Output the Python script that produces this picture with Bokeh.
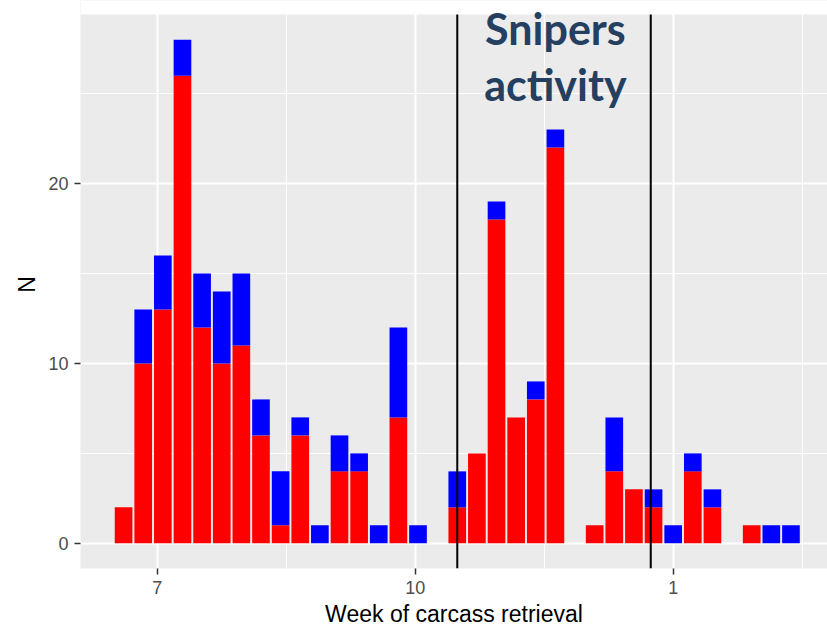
import pandas as pd
from bokeh.plotting import figure
from bokeh.models import Range1d, FixedTicker, ColumnDataSource, Label
from bokeh.embed import file_html
from bokeh.resources import INLINE

# ---- data ----
weeks = ["2017-06-19", "2017-06-26", "2017-07-03", "2017-07-10", "2017-07-17",
         "2017-07-24", "2017-07-31", "2017-08-07", "2017-08-14", "2017-08-21",
         "2017-08-28", "2017-09-04", "2017-09-11", "2017-09-18", "2017-09-25",
         "2017-10-02", "2017-10-16", "2017-10-23", "2017-10-30", "2017-11-06",
         "2017-11-13", "2017-11-20", "2017-12-04", "2017-12-11", "2017-12-18",
         "2017-12-25", "2018-01-01", "2018-01-08", "2018-01-15", "2018-01-29",
         "2018-02-05", "2018-02-12"]
red = [2, 10, 13, 26, 12, 10, 11, 6, 1, 6, 0, 4, 4, 0, 7, 0, 2, 5, 18, 7, 8, 22,
       1, 4, 3, 2, 0, 4, 2, 1, 0, 0]
blue = [0, 3, 3, 2, 3, 4, 4, 2, 3, 1, 1, 2, 1, 1, 5, 1, 2, 0, 1, 0, 1, 1,
        0, 3, 0, 1, 1, 1, 1, 0, 1, 1]

major_dates = ["2017-07-01", "2017-10-01", "2018-01-01"]
major_labels = ["7", "10", "1"]
minor_dates = ["2017-08-16", "2017-11-16", "2018-02-16"]
y_major = [0, 10, 20]
y_minor = [5, 15, 25]

sniper_start = "2017-10-16"
sniper_end = "2017-12-24"
note_lines = ["Snipers", "activity"]
note_date = "2017-11-20"


def ms(d):
    return pd.Timestamp(d).value // 10**6


DAY = 86400000.0
week_ts = pd.to_datetime(weeks)
src = ColumnDataSource(dict(week=week_ts, red=red, blue=blue))

bar_w = 0.9 * 7 * DAY
lo = ms(weeks[0]) - bar_w / 2
hi = ms(weeks[-1]) + bar_w / 2
pad = 0.05 * (hi - lo)
x_start = lo - pad
x_end = x_start + 266.4 * DAY

ymax = max(r + b for r, b in zip(red, blue))
ypad = 0.05 * ymax
panel_top = ymax + ypad
# frame reaches the figure top so the note can overflow the grey panel
y_top = panel_top + 14 / 18.0

p = figure(width=827, height=630, x_axis_type="datetime",
           output_backend="svg", toolbar_location=None,
           x_range=Range1d(x_start, x_end),
           y_range=Range1d(-ypad, y_top),
           min_border_left=80, min_border_right=0,
           min_border_top=0, min_border_bottom=62)

p.background_fill_color = "#EBEBEB"
p.border_fill_color = "white"
p.outline_line_color = None

# white strip above the grey panel
p.quad(left=[x_start], right=[x_end], bottom=[panel_top], top=[y_top],
       fill_color="white", line_color=None)

p.vbar_stack(["red", "blue"], x="week", width=bar_w, source=src,
             color=["#FF0000", "#0000FF"], line_color=None)

lines_x = [ms(sniper_start), ms(sniper_end)]
p.segment(x0=lines_x, y0=[-ypad] * 2, x1=lines_x, y1=[panel_top] * 2,
          line_color="black", line_width=2)

tx = ms(note_date)
for line, yy in zip(note_lines, (28.62, 25.5)):
    p.add_layout(Label(x=tx, y=yy, x_units="data", y_units="data", text=line,
                       text_font="Lato", text_font_style="bold",
                       text_font_size="43px", text_color="#243F60",
                       text_align="center", text_baseline="alphabetic"))

# ---- axes ----
xt = FixedTicker(ticks=[ms(d) for d in major_dates],
                 minor_ticks=[ms(d) for d in minor_dates])
p.xaxis.ticker = xt
p.xgrid.ticker = xt
p.xaxis.major_label_overrides = {float(ms(d)): l for d, l in zip(major_dates, major_labels)}

yt = FixedTicker(ticks=y_major, minor_ticks=y_minor)
p.yaxis.ticker = yt
p.ygrid.ticker = yt

for g in (p.xgrid, p.ygrid):
    g.grid_line_color = "white"
    g.grid_line_width = 2
    g.minor_grid_line_color = "white"
    g.minor_grid_line_width = 1

p.xaxis.axis_label = "Week of carcass retrieval"
p.yaxis.axis_label = "N"
for ax in (p.xaxis, p.yaxis):
    ax.axis_line_color = None
    ax.major_tick_out = 6
    ax.major_tick_in = 0
    ax.minor_tick_out = 0
    ax.minor_tick_in = 0
    ax.major_tick_line_color = "#333333"
    ax.major_tick_line_width = 1.5
    ax.major_label_standoff = 6
    ax.major_label_text_font = "Liberation Sans"
    ax.major_label_text_font_size = "18px"
    ax.major_label_text_color = "#4D4D4D"
    ax.axis_label_text_font = "Liberation Sans"
    ax.axis_label_text_font_size = "23px"
    ax.axis_label_text_font_style = "normal"
    ax.axis_label_text_color = "black"
p.xaxis.axis_label_standoff = 4
p.yaxis.axis_label_standoff = 5

open("out.html", "w").write(file_html(p, INLINE))
